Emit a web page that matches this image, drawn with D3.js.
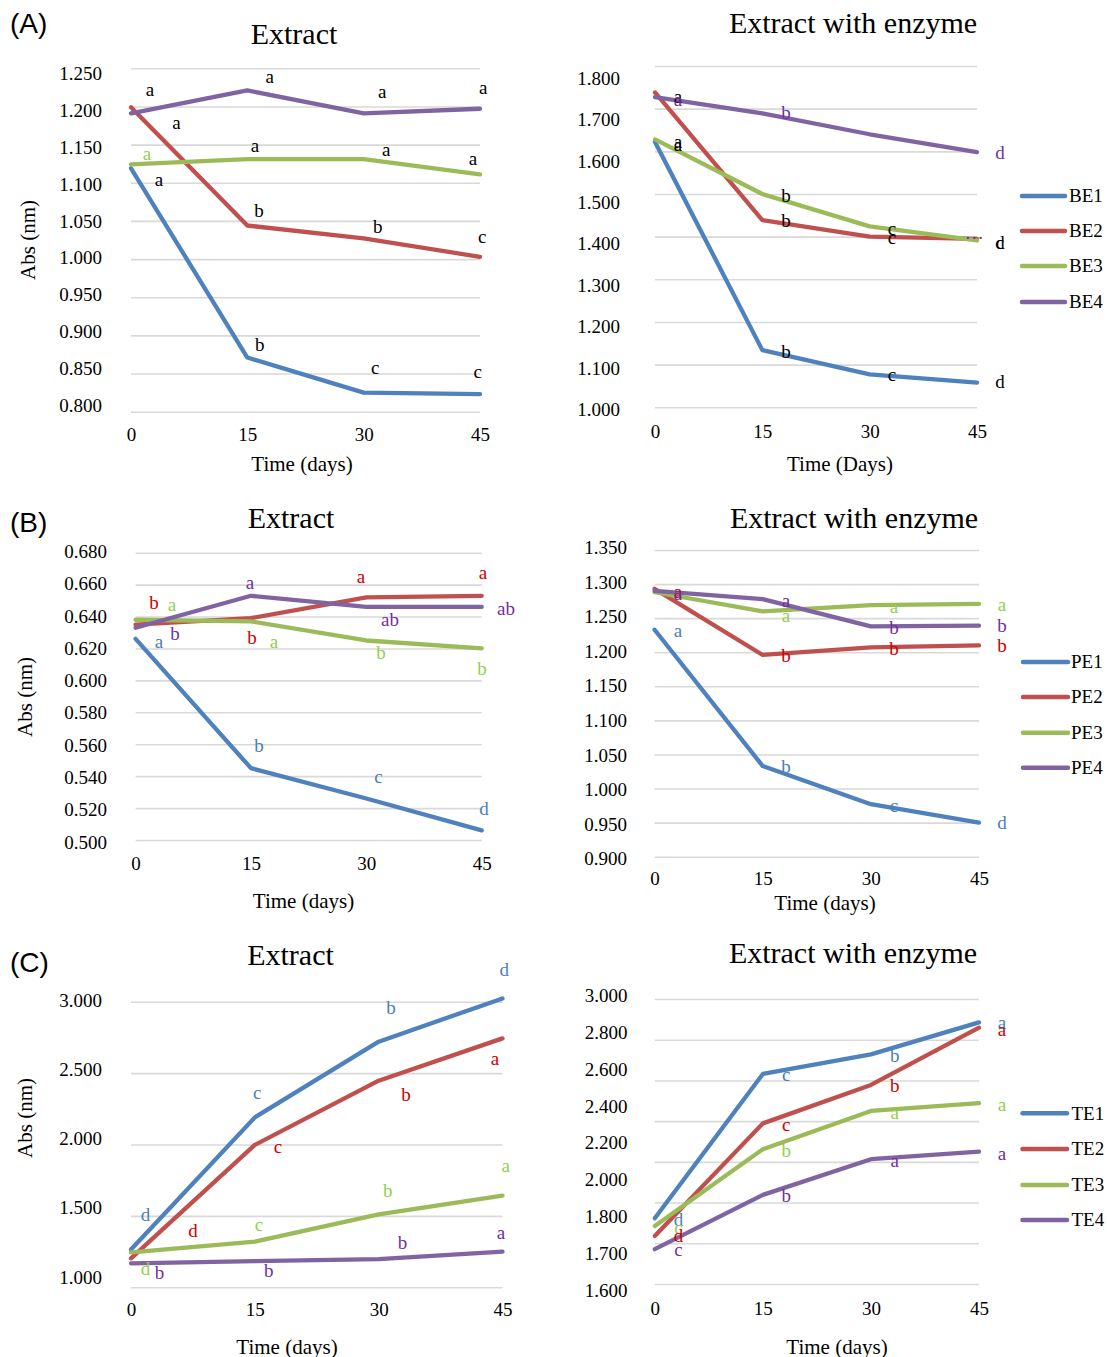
<!DOCTYPE html>
<html><head><meta charset="utf-8">
<script src="https://cdn.jsdelivr.net/npm/d3@7"></script>
<style>body{margin:0;background:#fff} svg{display:block}</style>
</head><body><svg id="c" width="1107" height="1357"></svg>
<script>
// ---------------- DATA ----------------
const days = [0, 15, 30, 45];
const xTickLabels = ["0", "15", "30", "45"];

// (A) Extract
const seriesBE = ["BE1", "BE2", "BE3", "BE4"];
const aExtBE1 = [1.119, 0.871, 0.825, 0.823];
const aExtBE2 = [1.199, 1.044, 1.027, 1.003];
const aExtBE3 = [1.124, 1.131, 1.131, 1.111];
const aExtBE4 = [1.191, 1.221, 1.191, 1.197];
const aExtYLabels = ["1.250","1.200","1.150","1.100","1.050","1.000","0.950","0.900","0.850","0.800"];
// [colour series (-1 = black), letter, day, value]
const aExtLetters = [
  [-1,"a",2.45,1.2216],[-1,"a",17.9,1.2386],[-1,"a",32.4,1.219],[-1,"a",45.4,1.2242],
  [-1,"a",5.87,1.1783],[-1,"b",16.5,1.0629],[-1,"b",31.8,1.042],[-1,"c",45.3,1.0289],
  [2,"a",2.06,1.1377],[-1,"a",16.0,1.1482],[-1,"a",32.9,1.1429],[-1,"a",44.1,1.1311],
  [-1,"a",3.6,1.1036],[-1,"b",16.6,0.8874],[-1,"c",31.5,0.8573],[-1,"c",44.7,0.852]
];

// (A) Extract with enzyme
const aEnzBE1 = [1.622, 1.134, 1.077, 1.058];
const aEnzBE2 = [1.738, 1.439, 1.400, 1.395];
const aEnzBE3 = [1.628, 1.500, 1.424, 1.391];
const aEnzBE4 = [1.727, 1.689, 1.640, 1.598];
const aEnzYLabels = ["1.800","1.700","1.600","1.500","1.400","1.300","1.200","1.100","1.000"];
const aEnzLetters = [
  [-1,"a",3.2,1.7274],[3,"a",3.2,1.7204],[-1,"a",3.2,1.622],[-1,"a",3.2,1.615],
  [3,"b",18.3,1.690],[-1,"b",18.3,1.4955],[-1,"b",18.3,1.437],
  [-1,"c",33.1,1.418],[-1,"c",33.1,1.395],
  [3,"d",48.2,1.596],[-1,"c",48.2,1.3855],[-1,"d",48.2,1.3855],[3,"\u2026",44.6,1.409],
  [-1,"b",18.3,1.130],[-1,"c",33.1,1.074],[-1,"d",48.2,1.058]
];

// (B) Extract
const seriesPE = ["PE1", "PE2", "PE3", "PE4"];
const bExtPE1 = [0.626, 0.545, 0.526, 0.506];
const bExtPE2 = [0.635, 0.639, 0.652, 0.653];
const bExtPE3 = [0.638, 0.637, 0.625, 0.620];
const bExtPE4 = [0.633, 0.653, 0.646, 0.646];
const bExtYLabels = ["0.680","0.660","0.640","0.620","0.600","0.580","0.560","0.540","0.520","0.500"];
const bExtLetters = [
  [1,"b",2.39,0.6485],[2,"a",4.73,0.6472],[0,"a",3.04,0.6241],[3,"b",5.12,0.6291],
  [3,"a",14.87,0.661],[1,"b",15.13,0.6266],[2,"a",18.0,0.6241],
  [1,"a",29.3,0.6648],[1,"a",45.17,0.6673],[3,"ab",33.07,0.6379],[3,"ab",48.15,0.6447],
  [2,"b",31.9,0.6172],[2,"b",45.04,0.6072],
  [0,"b",16.04,0.5589],[0,"c",31.58,0.5395],[0,"d",45.3,0.5195]
];

// (B) Extract with enzyme
const bEnzPE1 = [1.233, 1.033, 0.977, 0.950];
const bEnzPE2 = [1.293, 1.196, 1.207, 1.210];
const bEnzPE3 = [1.288, 1.260, 1.269, 1.271];
const bEnzPE4 = [1.290, 1.278, 1.238, 1.239];
const bEnzYLabels = ["1.350","1.300","1.250","1.200","1.150","1.100","1.050","1.000","0.950","0.900"];
const bEnzLetters = [
  [1,"a",3.25,1.2873],[3,"a",3.25,1.2854],[0,"a",3.25,1.2301],
  [3,"a",18.23,1.2741],[2,"a",18.23,1.2531],[1,"b",18.23,1.1934],[0,"b",18.23,1.0305],
  [2,"a",33.2,1.2659],[3,"b",33.2,1.2351],[1,"b",33.2,1.2042],[0,"c",33.2,0.9743],
  [2,"a",48.2,1.2693],[3,"b",48.2,1.2374],[1,"b",48.2,1.2081],[0,"d",48.2,0.9489]
];

// (C) Extract
const seriesTE = ["TE1", "TE2", "TE3", "TE4"];
const cExtTE1 = [1.265, 2.190, 2.720, 3.023];
const cExtTE2 = [1.203, 1.997, 2.447, 2.743];
const cExtTE3 = [1.245, 1.320, 1.511, 1.642];
const cExtTE4 = [1.168, 1.184, 1.198, 1.250];
const cExtYLabels = ["3.000","2.500","2.000","1.500","1.000"];
const cExtLetters = [
  [0,"d",45.2,3.217],[0,"b",31.5,2.954],[1,"a",44.1,2.597],[1,"b",33.3,2.347],
  [0,"c",15.3,2.359],[1,"c",17.8,1.978],[2,"a",45.4,1.845],[2,"b",31.1,1.669],
  [0,"d",1.77,1.506],[1,"d",7.5,1.389],[2,"c",15.5,1.436],[3,"a",44.8,1.378],
  [3,"b",32.9,1.308],[2,"d",1.77,1.126],[3,"b",3.46,1.098],[3,"b",16.7,1.109]
];

// (C) Extract with enzyme
const cEnzTE1 = [1.923, 2.632, 2.728, 2.885];
const cEnzTE2 = [1.836, 2.389, 2.578, 2.859];
const cEnzTE3 = [1.885, 2.262, 2.450, 2.488];
const cEnzTE4 = [1.771, 2.038, 2.213, 2.250];
const cEnzYLabels = ["3.000","2.800","2.600","2.400","2.200","2.000","1.800","1.700","1.600"];
const cEnzLetters = [
  [0,"a",48.2,2.881],[1,"a",48.2,2.848],[0,"b",33.3,2.717],[1,"b",33.3,2.569],
  [0,"c",18.24,2.623],[2,"a",48.2,2.476],[2,"a",33.3,2.439],[1,"c",18.24,2.381],
  [2,"b",18.24,2.253],[3,"a",48.2,2.239],[3,"a",33.3,2.204],[3,"b",18.24,2.029],
  [0,"d",3.3,1.914],[2,"c",3.3,1.876],[1,"d",3.3,1.835],[3,"c",3.3,1.764]
];

// ---------------- STYLE / LAYOUT ----------------
const lineColors = ["#4F81BD", "#C0504D", "#9BBB59", "#8064A2"];
const letterColors = ["#4A7EBB", "#CC0000", "#92D050", "#7030A0"];
const SERIF = "'Liberation Serif','Times New Roman',serif";
const SANS = "'Liberation Sans',Arial,sans-serif";

const panels = [
  { series: seriesBE, values: [aExtBE1, aExtBE2, aExtBE3, aExtBE4], yLabels: aExtYLabels, letters: aExtLetters,
    domain: [0.8, 1.25], step: 0.05, x0: 131, x1: 480, gTop: 68.3, gBottom: 411.7,
    lTop: 73, lBottom: 405, lRight: 102, xLabY: 435,
    title: "Extract", titleX: 294, titleY: 34, xTitle: "Time (days)", xTitleX: 302, xTitleY: 464,
    yTitle: "Abs (nm)", yTitleX: 28, yTitleY: 240, tag: "(A)", tagY: 33 },
  { series: seriesBE, values: [aEnzBE1, aEnzBE2, aEnzBE3, aEnzBE4], yLabels: aEnzYLabels, letters: aEnzLetters,
    domain: [1.0, 1.8], step: 0.1, x0: 655, x1: 977, gTop: 66, gBottom: 407.3,
    lTop: 78, lBottom: 409, lRight: 620, xLabY: 432,
    title: "Extract with enzyme", titleX: 853, titleY: 23, xTitle: "Time (Days)", xTitleX: 840, xTitleY: 464,
    legend: { x0: 1022, x1: 1065, tx: 1069, ys: [196, 231, 266, 302] } },
  { series: seriesPE, values: [bExtPE1, bExtPE2, bExtPE3, bExtPE4], yLabels: bExtYLabels, letters: bExtLetters,
    domain: [0.5, 0.68], step: 0.02, x0: 135.6, x1: 481.7, gTop: 552.7, gBottom: 840,
    lTop: 551, lBottom: 841.7, lRight: 107, xLabY: 864,
    title: "Extract", titleX: 291, titleY: 518, xTitle: "Time (days)", xTitleX: 303.5, xTitleY: 900.7,
    yTitle: "Abs (nm)", yTitleX: 25, yTitleY: 697, tag: "(B)", tagY: 532 },
  { series: seriesPE, values: [bEnzPE1, bEnzPE2, bEnzPE3, bEnzPE4], yLabels: bEnzYLabels, letters: bEnzLetters,
    domain: [0.9, 1.35], step: 0.05, x0: 654.6, x1: 979, gTop: 550, gBottom: 856.7,
    lTop: 547.3, lBottom: 858.3, lRight: 627, xLabY: 879,
    title: "Extract with enzyme", titleX: 854, titleY: 518, xTitle: "Time (days)", xTitleX: 825, xTitleY: 902.7,
    legend: { x0: 1023, x1: 1068, tx: 1071, ys: [662, 697, 732.7, 767.7] } },
  { series: seriesTE, values: [cExtTE1, cExtTE2, cExtTE3, cExtTE4], yLabels: cExtYLabels, letters: cExtLetters,
    domain: [1.0, 3.0], step: 0.5, x0: 131, x1: 502.5, gTop: 1001.7, gBottom: 1287.3,
    lTop: 1000, lBottom: 1276.7, lRight: 102, xLabY: 1310,
    title: "Extract", titleX: 290.5, titleY: 955, xTitle: "Time (days)", xTitleX: 287, xTitleY: 1346.7,
    yTitle: "Abs (nm)", yTitleX: 25, yTitleY: 1118, tag: "(C)", tagY: 972 },
  { series: seriesTE, values: [cEnzTE1, cEnzTE2, cEnzTE3, cEnzTE4], yLabels: cEnzYLabels, letters: cEnzLetters,
    domain: [1.6, 3.0], step: 0.2, x0: 654.8, x1: 979, gTop: 999, gBottom: 1284,
    lTop: 995, lBottom: 1290, lRight: 627.5, xLabY: 1308.3,
    title: "Extract with enzyme", titleX: 853, titleY: 953, xTitle: "Time (days)", xTitleX: 837, xTitleY: 1346.7,
    legend: { x0: 1022.5, x1: 1067, tx: 1071.5, ys: [1113.3, 1149, 1185, 1220] } }
];

// ---------------- DRAW ----------------
const svg = d3.select("#c");
svg.append("rect").attr("width", 1107).attr("height", 1357).attr("fill", "#fff");

function drawPanel(p) {
  const x = d3.scaleLinear().domain([0, 45]).range([p.x0, p.x1]);
  const y = d3.scaleLinear().domain(p.domain).range([p.gBottom, p.gTop]);
  const n = Math.round((p.domain[1] - p.domain[0]) / p.step);
  const gridVals = d3.range(n + 1).map(i => p.domain[0] + i * p.step);
  const g = svg.append("g");

  // gridlines
  g.append("g").attr("transform", `translate(${p.x0},0)`)
    .call(d3.axisLeft(y).tickValues(gridVals).tickSize(-(p.x1 - p.x0)).tickFormat(""))
    .call(a => { a.select(".domain").remove();
      a.selectAll("line").attr("stroke", "#d9d9d9").attr("stroke-width", 1.6); });

  // y tick labels
  const yl = d3.scalePoint().domain(p.yLabels).range([p.lTop, p.lBottom]);
  g.append("g").attr("transform", `translate(${p.lRight},0)`)
    .call(d3.axisLeft(yl).tickSize(0).tickPadding(0))
    .call(a => { a.select(".domain").remove();
      a.attr("font-family", SERIF).attr("font-size", 19);
      a.selectAll("text").attr("fill", "#000").attr("dy", "0.34em"); });

  // x tick labels
  g.append("g").attr("transform", `translate(0,${p.xLabY})`)
    .call(d3.axisBottom(x).tickValues(days).tickFormat((d, i) => xTickLabels[i]).tickSize(0).tickPadding(0))
    .call(a => { a.select(".domain").remove();
      a.attr("font-family", SERIF).attr("font-size", 19);
      a.selectAll("text").attr("fill", "#000").attr("dy", "0.34em"); });

  // lines
  const line = d3.line().x((d, i) => x(days[i])).y(d => y(d));
  p.values.forEach((vals, si) => {
    g.append("path").datum(vals).attr("d", line)
      .attr("fill", "none").attr("stroke", lineColors[si]).attr("stroke-width", 4.3)
      .attr("stroke-linejoin", "round").attr("stroke-linecap", "round");
  });

  // significance letters
  g.append("g").attr("font-family", SERIF).attr("font-size", 19).attr("text-anchor", "middle")
    .selectAll("text").data(p.letters).join("text")
    .attr("x", d => x(d[2])).attr("y", d => y(d[3])).attr("dy", "0.3em")
    .attr("fill", d => d[0] < 0 ? "#000" : letterColors[d[0]])
    .text(d => d[1]);

  // titles
  g.append("text").attr("x", p.titleX).attr("y", p.titleY).attr("dy", "0.34em")
    .attr("text-anchor", "middle").attr("font-family", SERIF).attr("font-size", 30).text(p.title);
  g.append("text").attr("x", p.xTitleX).attr("y", p.xTitleY).attr("dy", "0.34em")
    .attr("text-anchor", "middle").attr("font-family", SERIF).attr("font-size", 21).text(p.xTitle);
  if (p.yTitle) {
    g.append("text").attr("transform", `translate(${p.yTitleX},${p.yTitleY}) rotate(-90)`).attr("dy", "0.34em")
      .attr("text-anchor", "middle").attr("font-family", SERIF).attr("font-size", 21).text(p.yTitle);
  }
  if (p.tag) {
    g.append("text").attr("x", 10).attr("y", p.tagY)
      .attr("font-family", SANS).attr("font-size", 28).text(p.tag);
  }

  // legend
  if (p.legend) {
    const L = p.legend;
    const lg = g.append("g");
    p.series.forEach((s, si) => {
      lg.append("line").attr("x1", L.x0).attr("x2", L.x1).attr("y1", L.ys[si]).attr("y2", L.ys[si])
        .attr("stroke", lineColors[si]).attr("stroke-width", 4.5).attr("stroke-linecap", "round");
      lg.append("text").attr("x", L.tx).attr("y", L.ys[si]).attr("dy", "0.34em")
        .attr("font-family", SERIF).attr("font-size", 19).text(s);
    });
  }
}

panels.forEach(drawPanel);
</script></body></html>
